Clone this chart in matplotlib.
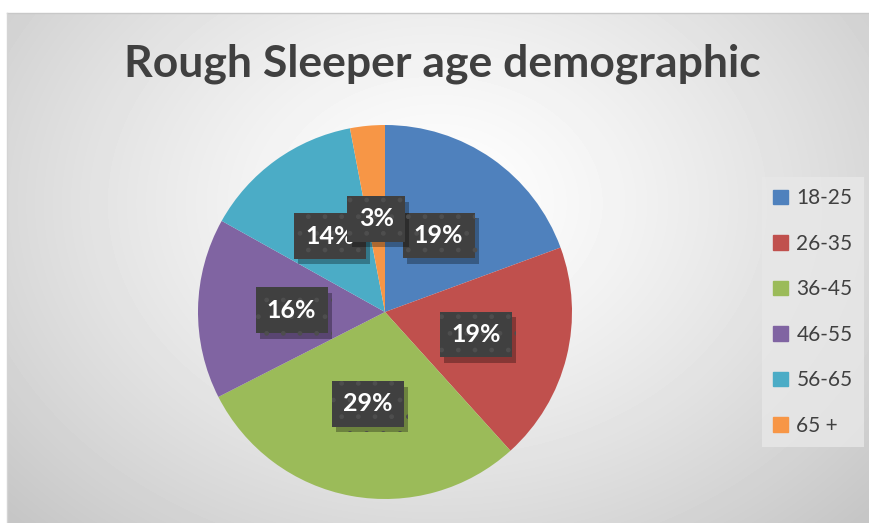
import numpy as np
import matplotlib.pyplot as plt
import matplotlib.patches as mpatches
import matplotlib.patheffects as pe

# age groups and their share of rough sleepers (%)
ages = ['18-25', '26-35', '36-45', '46-55', '56-65', '65 +']
shares = [19.4, 18.9, 29.2, 15.6, 13.9, 3.0]
colors = ['#4F81BD', '#C0504D', '#9BBB59', '#8064A2', '#4BACC6', '#F79646']

W, H = 870, 523
fig = plt.figure(figsize=(W / 100, H / 100), dpi=100)
fig.patch.set_facecolor('white')

# radial grey background of the chart area
bg = fig.add_axes([7 / W, 0, 1 - 7 / W, (H - 13) / H])
yy, xx = np.mgrid[0:510, 0:863]
r = np.sqrt(((xx - 430) / 430) ** 2 + ((yy - 190) / 330) ** 2)
shade = np.clip(255 - 38 * r ** 1.3, 198, 255) / 255
bg.imshow(shade, cmap='gray', vmin=0, vmax=1, aspect='auto', interpolation='bilinear')
bg.set_axis_off()
fig.add_artist(plt.Line2D([7 / W, 1], [(H - 13) / H] * 2, color='#c8c8c8', lw=1))
fig.add_artist(plt.Line2D([7 / W] * 2, [0, (H - 13) / H], color='#d4d4d4', lw=1))

fig.text(442 / W, 1 - 64 / H, 'Rough Sleeper age demographic', ha='center', va='center',
         fontsize=32, fontweight='bold', color='#404040', family='Lato')

# pie
cx, cy, R = 385, 312, 187
ax = fig.add_axes([(cx - R) / W, (H - cy - R) / H, 2 * R / W, 2 * R / H])
wedges, texts, autotexts = ax.pie(shares, colors=colors, startangle=90, counterclock=False,
                                  autopct='%.0f%%', pctdistance=0.5, radius=1,
                                  wedgeprops=dict(linewidth=0))
ax.set_xlim(-1, 1)
ax.set_ylim(-1, 1)
for t in autotexts:
    t.set_color('white')
    t.set_fontsize(18)
    t.set_fontweight('bold')
    t.set_family('Lato')
    t.set_bbox(dict(boxstyle='square,pad=0.45', facecolor='#404040', edgecolor='#4e4e4e',
                    hatch='.', linewidth=0))
    t.get_bbox_patch().set_path_effects([
        pe.SimplePatchShadow(offset=(3, -4), shadow_rgbFace='black', alpha=0.3), pe.Normal()])

handles = [mpatches.Patch(color=c, label=a) for a, c in zip(ages, colors)]
leg = fig.legend(handles=handles, loc='upper left', bbox_to_anchor=(762 / W, 1 - 177 / H),
                 frameon=True, fancybox=False, labelspacing=1.22,
                 handlelength=0.7, handleheight=0.7, handletextpad=0.4,
                 borderpad=0.55, borderaxespad=0, prop={'family': 'Lato', 'size': 15})
leg.get_frame().set_facecolor('#e8e8e8')
leg.get_frame().set_edgecolor('none')
leg.get_frame().set_alpha(0.8)
for txt in leg.get_texts():
    txt.set_color('#404040')

fig.savefig('out.png', dpi=100)
